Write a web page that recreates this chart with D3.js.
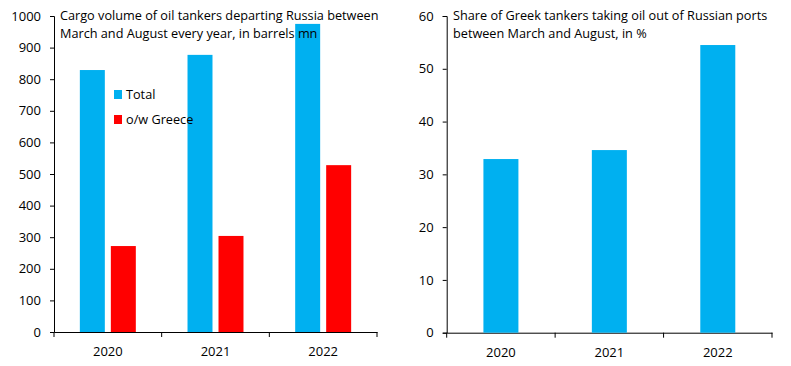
<!DOCTYPE html>
<html>
<head>
<meta charset="utf-8">
<script src="https://cdn.jsdelivr.net/npm/d3@7"></script>
<style>
  body { margin: 0; background: #fff; }
  text { font-family: "Open Sans", sans-serif; fill: #000; }
</style>
</head>
<body>
<div id="chart"></div>
<script>
// donnees
var years = ["2020", "2021", "2022"];
var series = ["Total", "o/w Greece"];
var totalVolume = [829, 877, 975];
var greeceVolume = [272, 304, 528];
var greekShare = [32.9, 34.6, 54.5];
var leftTicks = [0, 100, 200, 300, 400, 500, 600, 700, 800, 900, 1000];
var rightTicks = [0, 10, 20, 30, 40, 50, 60];
var leftTitle = ["Cargo volume of oil tankers departing Russia between", "March and August every year, in barrels mn"];
var rightTitle = ["Share of Greek tankers taking oil out of Russian ports", "between March and August, in %"];

var colors = { "Total": "#00B0F0", "o/w Greece": "#FF0000" };

var width = 791;
var height = 366;

var svg = d3.select("#chart")
  .append("svg")
  .attr("width", width)
  .attr("height", height);

// axe Y + axe X (ticks entre les categories, comme Excel)
function drawAxes(x, y, ticks) {
  svg.append("g")
    .attr("transform", "translate(" + x.range()[0] + ",0)")
    .call(d3.axisLeft(y).tickValues(ticks).tickSize(4).tickPadding(9).tickFormat(d3.format("d")))
    .call(function (g) {
      g.selectAll("text").style("font-size", "13px");
      g.selectAll("path, line").attr("stroke", "#000");
    });

  var xa = svg.append("g")
    .attr("transform", "translate(0," + y(0) + ")")
    .call(d3.axisBottom(x).tickSize(0).tickPadding(15).tickSizeOuter(0))
    .call(function (g) {
      g.selectAll("text").style("font-size", "13px");
      g.select(".domain").attr("stroke", "#000");
    });

  var bounds = years.map(function (d) { return x(d); }).concat([x.range()[1]]);
  xa.selectAll(".sep")
    .data(bounds)
    .enter()
    .append("line")
    .attr("class", "sep")
    .attr("x1", function (d) { return d; })
    .attr("x2", function (d) { return d; })
    .attr("y1", 0)
    .attr("y2", 5)
    .attr("stroke", "#000");
}

function drawTitle(lines, x0) {
  svg.append("text")
    .attr("x", x0)
    .attr("y", 20)
    .style("font-size", "12.7px")
    .selectAll("tspan")
    .data(lines)
    .enter()
    .append("tspan")
    .attr("x", x0)
    .attr("dy", function (d, i) { return i === 0 ? 0 : 18; })
    .text(function (d) { return d; });
}

// --- graphique de gauche : volumes ---
var xL = d3.scaleBand().domain(years).range([54, 377]).paddingInner(0).paddingOuter(0);
var yL = d3.scaleLinear().domain([0, 1000]).range([332, 16]);
var x1 = d3.scaleBand().domain(series).range([0, xL.bandwidth()]).paddingInner(0.194).paddingOuter(0.834);

drawAxes(xL, yL, leftTicks);

var rows = years.map(function (y, i) {
  return { year: y, values: [{ key: "Total", value: totalVolume[i] }, { key: "o/w Greece", value: greeceVolume[i] }] };
});

var groups = svg.selectAll(".grp")
  .data(rows)
  .enter()
  .append("g")
  .attr("class", "grp")
  .attr("transform", function (d) { return "translate(" + xL(d.year) + ",0)"; });

groups.selectAll("rect")
  .data(function (d) { return d.values; })
  .enter()
  .append("rect")
  .attr("x", function (d) { return x1(d.key); })
  .attr("y", function (d) { return yL(d.value); })
  .attr("width", x1.bandwidth())
  .attr("height", function (d) { return yL(0) - yL(d.value); })
  .style("fill", function (d) { return colors[d.key]; });

drawTitle(leftTitle, 60);

// legende
var leg = svg.selectAll(".leg")
  .data(series)
  .enter()
  .append("g")
  .attr("class", "leg")
  .attr("transform", function (d, i) { return "translate(114," + (90 + i * 25) + ")"; });

leg.append("rect")
  .attr("width", 8)
  .attr("height", 9)
  .style("fill", function (d) { return colors[d]; });

leg.append("text")
  .attr("x", 12)
  .attr("y", 4.5)
  .attr("dy", "0.35em")
  .style("font-size", "12.7px")
  .text(function (d) { return d; });

// --- graphique de droite : part grecque ---
var xR = d3.scaleBand().domain(years).range([446.7, 772]).paddingInner(0).paddingOuter(0);
var yR = d3.scaleLinear().domain([0, 60]).range([332.7, 16]);

drawAxes(xR, yR, rightTicks);

svg.selectAll(".share")
  .data(greekShare)
  .enter()
  .append("rect")
  .attr("class", "share")
  .attr("x", function (d, i) { return xR(years[i]) + (xR.bandwidth() - 35) / 2; })
  .attr("y", function (d) { return yR(d); })
  .attr("width", 35)
  .attr("height", function (d) { return yR(0) - yR(d); })
  .style("fill", colors["Total"]);

drawTitle(rightTitle, 453);
</script>
</body>
</html>
